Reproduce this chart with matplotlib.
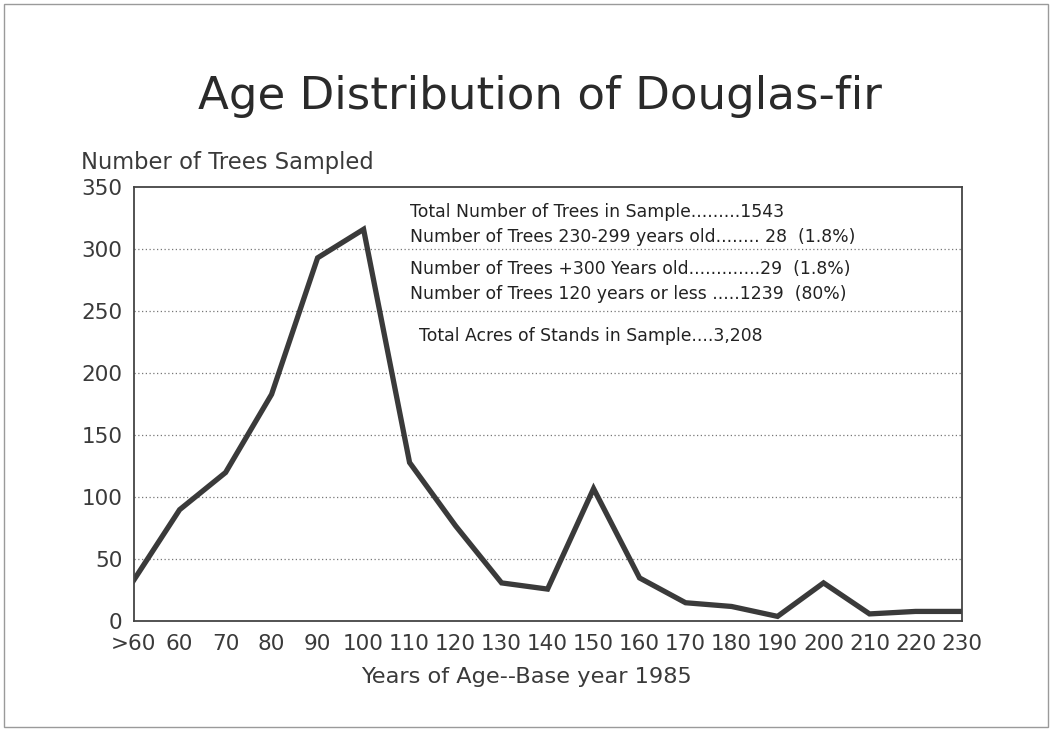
"""
Age distribution of Douglas-fir, redrawn from a scanned slide.
"""

import matplotlib
matplotlib.use("Agg")
import matplotlib.pyplot as plt
from matplotlib.patches import Rectangle

# Age classes (years of age, base year 1985) and trees counted in each
age_classes = [">60", "60", "70", "80", "90", "100", "110", "120", "130", "140",
               "150", "160", "170", "180", "190", "200", "210", "220", "230"]
trees_sampled = [33, 90, 120, 183, 293, 316, 128, 77, 31, 26,
                 107, 35, 15, 12, 4, 31, 6, 8, 8]

y_ticks = [0, 50, 100, 150, 200, 250, 300, 350]

summary_lines = [
    ("Total Number of Trees in Sample.........1543", 330),
    ("Number of Trees 230-299 years old........ 28  (1.8%)", 310),
    ("Number of Trees +300 Years old.............29  (1.8%)", 284),
    ("Number of Trees 120 years or less .....1239  (80%)", 264),
    ("Total Acres of Stands in Sample....3,208", 230),
]

plt.rcParams["font.family"] = ["DejaVu Sans"]
ink = "#3a3a3a"

fig = plt.figure(figsize=(10.52, 7.31), dpi=100)
fig.patches.append(Rectangle((0.004, 0.006), 0.992, 0.988, transform=fig.transFigure,
                             fill=False, edgecolor="#9a9a9a", linewidth=1.0))

ax = fig.add_axes([0.127, 0.150, 0.787, 0.594])
x = list(range(len(age_classes)))
ax.plot(x, trees_sampled, color=ink, linewidth=3.8, solid_joinstyle="miter")

ax.set_xlim(0, len(age_classes) - 1)
ax.set_ylim(0, 350)
ax.set_xticks(x)
ax.set_xticklabels(age_classes)
ax.set_yticks(y_ticks)
ax.tick_params(length=0, labelsize=15.5, colors=ink, pad=8)
ax.tick_params(axis="x", pad=9)

for yv in y_ticks[1:-1]:
    ax.axhline(yv, color="#777777", linestyle=(0, (1, 2)), linewidth=0.9, zorder=0)

for side in ax.spines.values():
    side.set_color("#444444")
    side.set_linewidth(1.3)

for text, yv in summary_lines:
    xpos = 6.0 if "Acres" not in text else 6.2
    ax.text(xpos, yv, text, fontsize=12.4, color="#222222", va="center", ha="left")

ax.set_xlabel("Years of Age--Base year 1985", fontsize=16.2, color=ink)
ax.xaxis.set_label_coords(0.474, -0.105)
fig.text(0.077, 0.778, "Number of Trees Sampled", fontsize=16.3, color=ink, ha="left", va="center")
fig.text(0.513, 0.868, "Age Distribution of Douglas-fir", fontsize=32.5, color="#2a2a2a",
         ha="center", va="center")

fig.savefig("out.png", dpi=100, facecolor="white")
